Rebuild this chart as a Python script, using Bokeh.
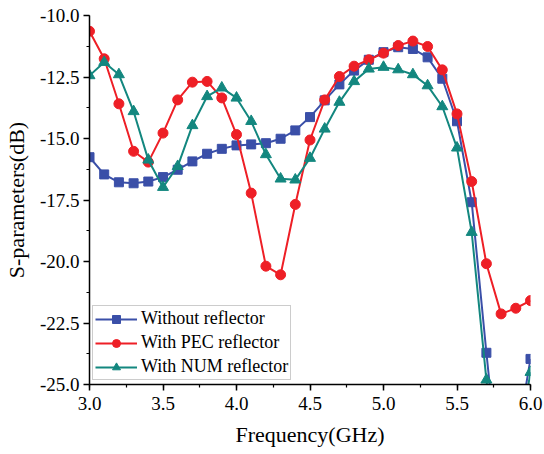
from bokeh.plotting import figure
from bokeh.models import FixedTicker, NumeralTickFormatter, Legend, LegendItem, Range1d
from bokeh.embed import file_html
from bokeh.resources import INLINE

freq = [3.0, 3.1, 3.2, 3.3, 3.4, 3.5, 3.6, 3.7, 3.8, 3.9, 4.0, 4.1, 4.2, 4.3, 4.4, 4.5,
        4.6, 4.7, 4.8, 4.9, 5.0, 5.1, 5.2, 5.3, 5.4, 5.5, 5.6, 5.7, 5.8, 5.9, 6.0]

without_reflector = [-15.76, -16.46, -16.78, -16.82, -16.75, -16.57, -16.27, -15.93, -15.62, -15.42,
                     -15.28, -15.24, -15.19, -15.01, -14.67, -14.13, -13.45, -12.80, -12.24, -11.80,
                     -11.49, -11.29, -11.36, -11.70, -12.57, -14.30, -17.59, -23.71, -29.5, -27.5, -23.96]

with_pec = [-10.64, -11.76, -13.59, -15.52, -15.96, -14.78, -13.43, -12.71, -12.68, -13.35,
            -14.84, -17.22, -20.19, -20.54, -17.68, -15.06, -13.43, -12.48, -12.06, -11.80,
            -11.53, -11.22, -11.04, -11.26, -12.21, -14.00, -16.75, -20.09, -22.13, -21.90, -21.59]

with_num = [-12.44, -11.90, -12.40, -13.90, -15.87, -16.98, -16.13, -14.47, -13.29, -12.94,
            -13.35, -14.30, -15.65, -16.64, -16.68, -15.80, -14.61, -13.52, -12.68, -12.17,
            -12.10, -12.20, -12.40, -12.85, -13.70, -15.38, -18.81, -24.81, -30.0, -28.0, -24.50]

labels = ["Without reflector", "With PEC reflector", "With NUM reflector"]
colors = ["#3A4FA8", "#EE1F26", "#13877F"]

x_ticks = [3.0, 3.5, 4.0, 4.5, 5.0, 5.5, 6.0]
y_ticks = [-25.0, -22.5, -20.0, -17.5, -15.0, -12.5, -10.0]

FONT = "Liberation Serif"

p = figure(width=544, height=454, output_backend="svg", toolbar_location=None,
           x_range=Range1d(3.0, 6.0), y_range=Range1d(-25.0, -10.0),
           min_border_left=89, min_border_right=14, min_border_top=15, min_border_bottom=70)
p.outline_line_color = None
p.grid.visible = False
p.background_fill_color = "white"
p.border_fill_color = "white"

r1l = p.line(freq, without_reflector, line_color=colors[0], line_width=2)
r1m = p.scatter(freq, without_reflector, marker="square", size=9, fill_color=colors[0], line_color=colors[0])
r2l = p.line(freq, with_pec, line_color=colors[1], line_width=2)
r2m = p.scatter(freq, with_pec, marker="circle", size=10, fill_color=colors[1], line_color=colors[1])
r3l = p.line(freq, with_num, line_color=colors[2], line_width=2)
r3m = p.scatter(freq, with_num, marker="triangle", size=11, fill_color=colors[2], line_color=colors[2])

p.xaxis.ticker = FixedTicker(ticks=x_ticks, minor_ticks=[3.0 + 0.25 * i for i in range(13)])
p.yaxis.ticker = FixedTicker(ticks=y_ticks, minor_ticks=[-25.0 + 1.25 * i for i in range(13)])
p.xaxis.formatter = NumeralTickFormatter(format="0.0")
p.yaxis.formatter = NumeralTickFormatter(format="0.0")

for ax in (p.xaxis, p.yaxis):
    ax.axis_line_width = 1.5
    ax.axis_line_color = "black"
    ax.major_tick_line_color = "black"
    ax.minor_tick_line_color = "black"
    ax.major_tick_line_width = 1.5
    ax.minor_tick_line_width = 1.2
    ax.major_tick_out = 6
    ax.major_tick_in = 0
    ax.minor_tick_out = 3
    ax.minor_tick_in = 0
    ax.major_label_text_font = FONT
    ax.major_label_text_font_size = "19px"
    ax.major_label_text_color = "black"
    ax.axis_label_text_font = FONT
    ax.axis_label_text_font_size = "22px"
    ax.axis_label_text_font_style = "normal"
    ax.axis_label_text_color = "black"

p.xaxis.axis_label = "Frequency(GHz)"
p.yaxis.axis_label = "S-parameters(dB)"
p.xaxis.major_label_standoff = 6
p.yaxis.major_label_standoff = 4
p.xaxis.axis_label_standoff = 9
p.yaxis.axis_label_standoff = 8

legend = Legend(items=[
    LegendItem(label=labels[0], renderers=[r1l, r1m]),
    LegendItem(label=labels[1], renderers=[r2l, r2m]),
    LegendItem(label=labels[2], renderers=[r3l, r3m]),
], location=(3, 4))
legend.label_text_font = FONT
legend.label_text_font_size = "18px"
legend.label_text_color = "black"
legend.border_line_color = "#999999"
legend.border_line_width = 1.2
legend.background_fill_alpha = 1.0
legend.glyph_width = 42
legend.glyph_height = 20
legend.label_standoff = 4
legend.padding = 2
legend.spacing = 3
legend.margin = 0
legend.label_height = 20
p.add_layout(legend, "center")

open("out.html", "w").write(file_html(p, INLINE))
